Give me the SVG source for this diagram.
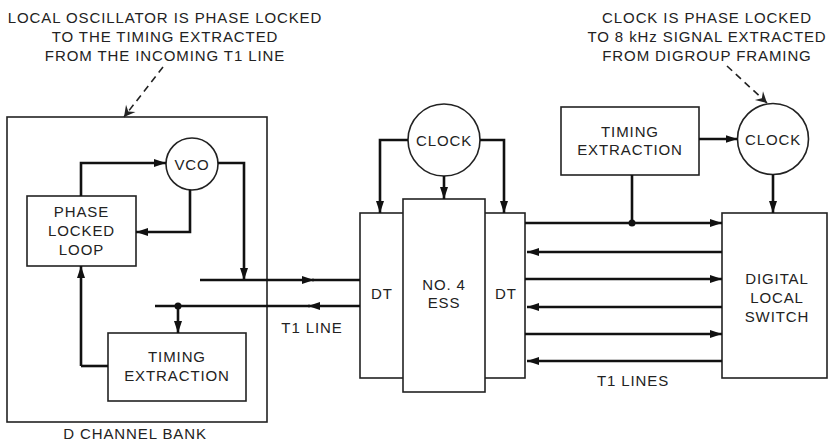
<svg xmlns="http://www.w3.org/2000/svg" width="829" height="442" viewBox="0 0 829 442">
<style>
  .box { fill: #fff; stroke: #222; stroke-width: 1.6; }
  .wire { fill: none; stroke: #111; stroke-width: 2.6; }
  .dash { fill: none; stroke: #222; stroke-width: 1.6; stroke-dasharray: 7 5; }
  text { font-family: "Liberation Sans", Arial, sans-serif; font-size: 15px; fill: #222; text-anchor: middle; letter-spacing: 0.9px; }
</style>
<defs>
  <marker id="ah" markerUnits="userSpaceOnUse" markerWidth="14" markerHeight="10" refX="12" refY="5" orient="auto">
    <path d="M0,1 L12,5 L0,9 Z" fill="#111"/>
  </marker>
  <marker id="open" markerUnits="userSpaceOnUse" markerWidth="14" markerHeight="14" refX="12" refY="7" orient="auto">
    <path d="M1,1 L12,7 L1,13 L5,7 Z" fill="#222"/>
  </marker>
</defs>

<rect width="829" height="442" fill="#fff"/>

<g id="note-left">
  <text x="165" y="23">LOCAL OSCILLATOR IS PHASE LOCKED</text>
  <text x="165" y="42">TO THE TIMING EXTRACTED</text>
  <text x="165" y="61">FROM THE INCOMING T1 LINE</text>
</g>
<g id="note-right">
  <text x="707" y="23">CLOCK IS PHASE LOCKED</text>
  <text x="707" y="42">TO 8 kHz SIGNAL EXTRACTED</text>
  <text x="707" y="61">FROM DIGROUP FRAMING</text>
</g>

<g id="d-channel-bank">
  <rect class="box" x="7" y="117" width="260" height="305"/>
  <text x="135" y="439">D CHANNEL BANK</text>
</g>
<g id="vco">
  <circle class="box" cx="192" cy="164" r="26"/>
  <text x="192" y="169.5">VCO</text>
</g>
<g id="pll">
  <rect class="box" x="27" y="196" width="109" height="70"/>
  <text x="81.5" y="217">PHASE</text>
  <text x="81.5" y="236">LOCKED</text>
  <text x="81.5" y="255">LOOP</text>
</g>
<g id="timing-extraction-left">
  <rect class="box" x="108" y="333" width="138" height="68"/>
  <text x="177" y="362">TIMING</text>
  <text x="177" y="381">EXTRACTION</text>
</g>
<g id="dt-left">
  <rect class="box" x="360" y="213" width="45" height="165"/>
  <text x="382" y="299">DT</text>
</g>
<g id="dt-right">
  <rect class="box" x="483" y="213" width="42" height="165"/>
  <text x="506" y="299">DT</text>
</g>
<g id="no4-ess">
  <rect class="box" x="403" y="199" width="82" height="193"/>
  <text x="444" y="290">NO. 4</text>
  <text x="444" y="308">ESS</text>
</g>
<g id="clock-ess">
  <circle class="box" cx="444" cy="140" r="36"/>
  <text x="444" y="145.5">CLOCK</text>
</g>
<g id="timing-extraction-right">
  <rect class="box" x="561" y="107" width="138" height="68"/>
  <text x="630" y="137">TIMING</text>
  <text x="630" y="155">EXTRACTION</text>
</g>
<g id="clock-dls">
  <circle class="box" cx="773" cy="139" r="35.5"/>
  <text x="773" y="144.5">CLOCK</text>
</g>
<g id="digital-local-switch">
  <rect class="box" x="722" y="213" width="105" height="165"/>
  <text x="777" y="284">DIGITAL</text>
  <text x="777" y="303">LOCAL</text>
  <text x="777" y="322">SWITCH</text>
</g>
<g id="labels">
  <text x="312" y="333">T1 LINE</text>
  <text x="633" y="386">T1 LINES</text>
</g>

<g id="connectors">
  <path class="dash" d="M163,67 L124,117" marker-end="url(#open)"/>
  <path class="dash" d="M727,66 L767,103" marker-end="url(#open)"/>
  <path class="wire" d="M81,196 L81,163 L166,163" marker-end="url(#ah)"/>
  <path class="wire" d="M190,190 L190,232 L136,232" marker-end="url(#ah)"/>
  <path class="wire" d="M218,163 L244,163 L244,280" marker-end="url(#ah)"/>
  <path class="wire" d="M81,366 L108,366"/>
  <path class="wire" d="M81,366 L81,266" marker-end="url(#ah)"/>
  <path class="wire" d="M178,306 L178,333" marker-end="url(#ah)"/>
  <circle cx="178" cy="306" r="3.5" fill="#111"/>
  <path class="wire" d="M200,280 L314,280" marker-end="url(#ah)"/>
  <path class="wire" d="M312,280 L360,280"/>
  <path class="wire" d="M360,306 L308,306" marker-end="url(#ah)"/>
  <path class="wire" d="M310,306 L155,306"/>
  <path class="wire" d="M408,140 L380,140 L380,213" marker-end="url(#ah)"/>
  <path class="wire" d="M480,140 L504,140 L504,213" marker-end="url(#ah)"/>
  <path class="wire" d="M444,176 L444,199" marker-end="url(#ah)"/>
  <path class="wire" d="M699,139 L737.5,139" marker-end="url(#ah)"/>
  <path class="wire" d="M773,174.5 L773,213" marker-end="url(#ah)"/>
  <path class="wire" d="M632,175 L632,223"/>
  <circle cx="632" cy="223" r="3.5" fill="#111"/>
  <path class="wire" d="M525,223 L722,223" marker-end="url(#ah)"/>
  <path class="wire" d="M722,252 L527,252" marker-end="url(#ah)"/>
  <path class="wire" d="M525,279 L722,279" marker-end="url(#ah)"/>
  <path class="wire" d="M722,307 L527,307" marker-end="url(#ah)"/>
  <path class="wire" d="M525,334 L722,334" marker-end="url(#ah)"/>
  <path class="wire" d="M722,361 L527,361" marker-end="url(#ah)"/>
</g>
</svg>
